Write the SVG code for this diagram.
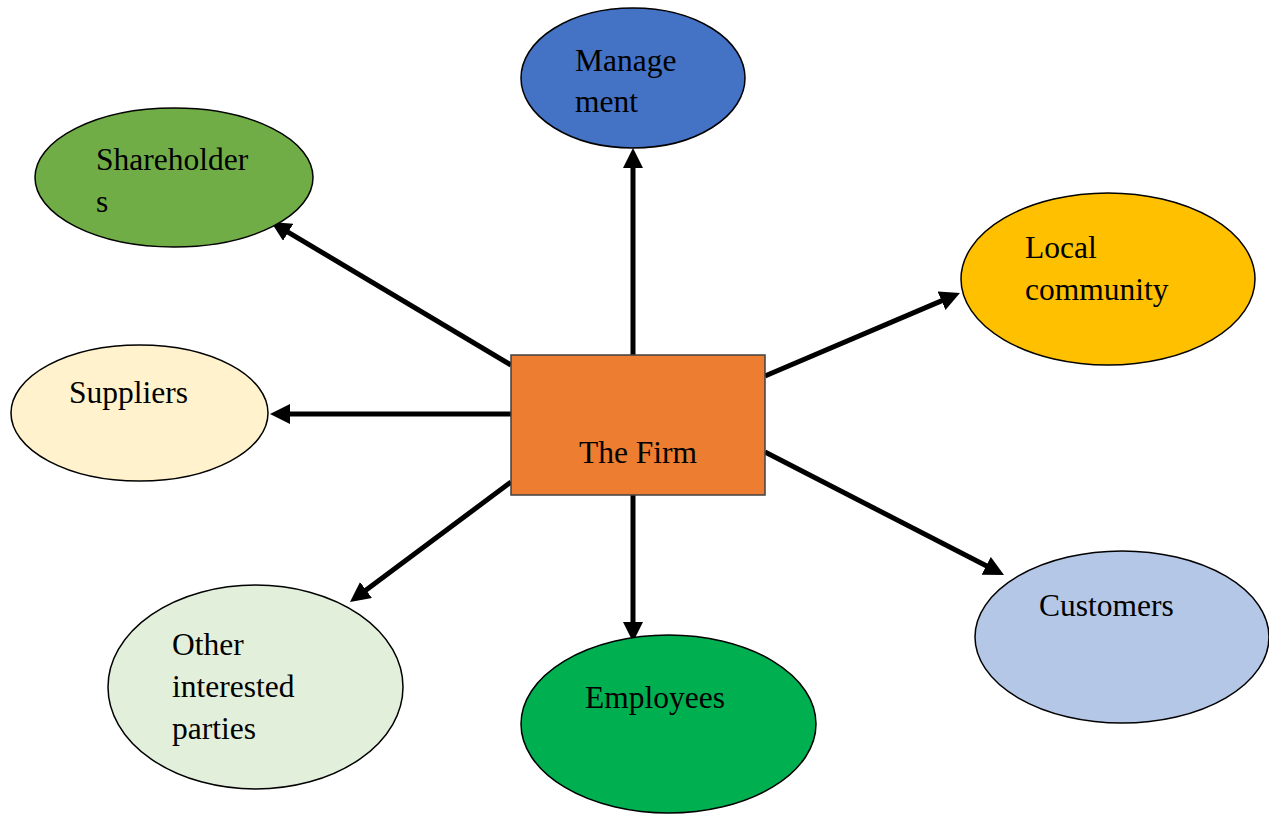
<svg xmlns="http://www.w3.org/2000/svg" width="1269" height="814" viewBox="0 0 1269 814">
  <style>
    .node { stroke: #000; stroke-width: 1.5; }
    .lbl { font-family: "Liberation Serif", "Times New Roman", serif; font-size: 31.5px; fill: #000; }
    .conn { stroke: #000; stroke-width: 5; fill: none; marker-end: url(#head); }
  </style>
  <defs>
    <marker id="head" markerUnits="userSpaceOnUse" markerWidth="20" markerHeight="20" refX="12" refY="10" orient="auto">
      <path d="M0,0 L20,10 L0,20 z" fill="#000"/>
    </marker>
  </defs>
  <rect width="1269" height="814" fill="#fff"/>

  <g id="connectors">
    <path class="conn" d="M633,355 L633,156"/>
    <path class="conn" d="M511,365 L277.9,226.1"/>
    <path class="conn" d="M765,376 L952.6,296.1"/>
    <path class="conn" d="M511,414 L278,414"/>
    <path class="conn" d="M511,482 L356.4,597.2"/>
    <path class="conn" d="M633,495 L633,634"/>
    <path class="conn" d="M765,452 L996.9,571.3"/>
  </g>

  <g id="firm">
    <rect x="511" y="355" width="254" height="140" fill="#ED7D31" stroke="#404040" stroke-width="1.5"/>
    <text class="lbl" x="579" y="463">The Firm</text>
  </g>

  <g id="management">
    <ellipse class="node" cx="633" cy="78" rx="112" ry="70" fill="#4472C4"/>
    <text class="lbl" x="575" y="71">Manage</text>
    <text class="lbl" x="575" y="112">ment</text>
  </g>

  <g id="shareholders">
    <ellipse class="node" cx="174" cy="177.5" rx="139" ry="69.5" fill="#70AD47"/>
    <text class="lbl" x="96" y="170">Shareholder</text>
    <text class="lbl" x="96" y="212">s</text>
  </g>

  <g id="local-community">
    <ellipse class="node" cx="1108" cy="279" rx="147" ry="86" fill="#FFC000"/>
    <text class="lbl" x="1025" y="258">Local</text>
    <text class="lbl" x="1025" y="300">community</text>
  </g>

  <g id="suppliers">
    <ellipse class="node" cx="139.5" cy="413" rx="128.5" ry="68" fill="#FFF2CC"/>
    <text class="lbl" x="69" y="403">Suppliers</text>
  </g>

  <g id="other-parties">
    <ellipse class="node" cx="255.5" cy="687" rx="147.5" ry="102" fill="#E2EFDA"/>
    <text class="lbl" x="172" y="655">Other</text>
    <text class="lbl" x="172" y="697">interested</text>
    <text class="lbl" x="172" y="739">parties</text>
  </g>

  <g id="employees">
    <ellipse class="node" cx="668.5" cy="724" rx="147.5" ry="89" fill="#00B050"/>
    <text class="lbl" x="585" y="708">Employees</text>
  </g>

  <g id="customers">
    <ellipse class="node" cx="1122" cy="637" rx="147" ry="86" fill="#B4C7E7"/>
    <text class="lbl" x="1039" y="616">Customers</text>
  </g>
</svg>
